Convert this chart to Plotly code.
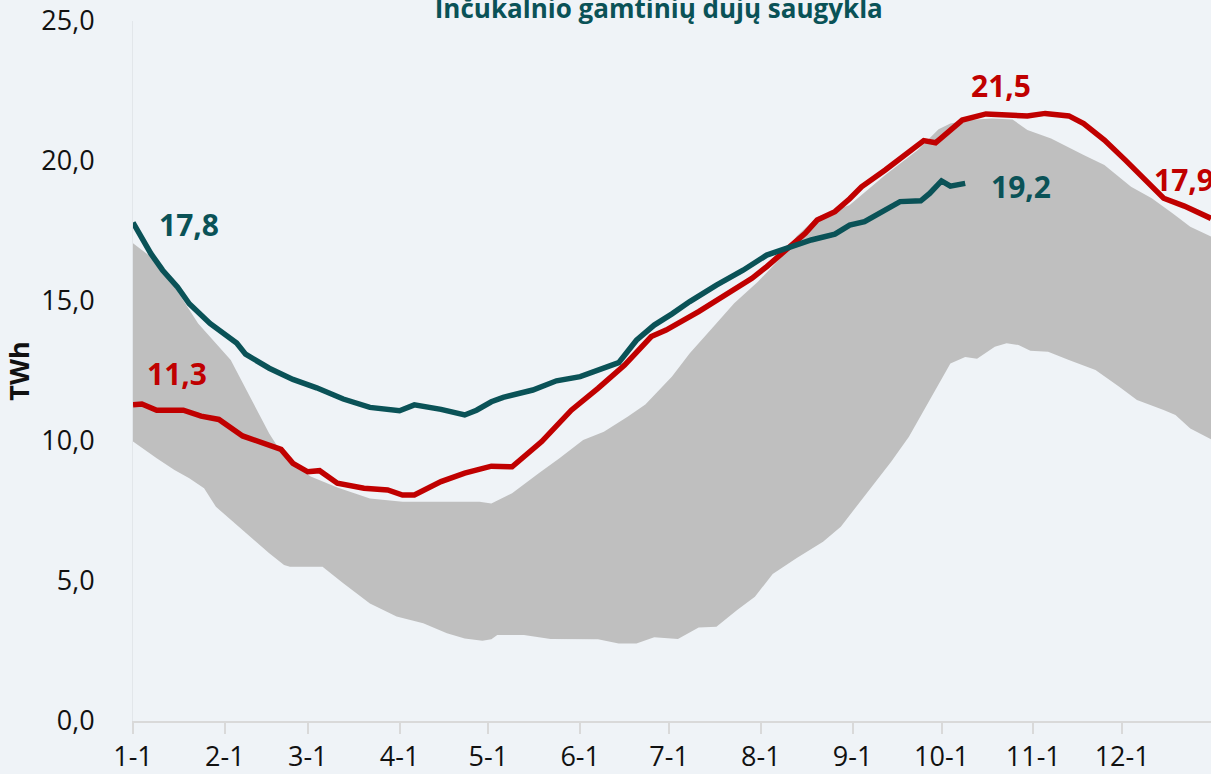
import pandas as pd
import plotly.graph_objects as go

YEAR = "2021-"  # non-leap reference year, only month-day is shown

# gray band: upper edge
band_hi_dates = ["01-01", "01-07", "01-15", "01-23", "02-03", "02-12", "02-16", "02-21", "03-02", "03-11",
                 "03-22", "04-02", "04-28", "05-02", "05-09", "05-18", "05-25", "06-02", "06-09", "06-17",
                 "06-23", "07-02", "07-08", "07-15", "07-23", "07-31", "08-07", "08-13", "08-20", "08-31",
                 "09-12", "09-23", "09-30", "10-04", "10-10", "10-18", "10-25", "10-30", "11-07", "11-18",
                 "11-25", "12-04", "12-11", "12-18", "12-24", "12-31"]
band_hi = [17.06, 16.58, 15.51, 14.2, 12.89, 11.11, 10.27, 9.44, 8.73, 8.34,
           7.95, 7.83, 7.83, 7.77, 8.13, 8.85, 9.38, 10.04, 10.33, 10.87,
           11.3, 12.3, 13.13, 13.96, 14.92, 15.69, 16.46, 17.3, 18.0, 18.43,
           19.5, 20.39, 21.13, 21.34, 21.46, 21.52, 21.48, 21.11, 20.8, 20.21,
           19.86, 19.08, 18.67, 18.13, 17.65, 17.3]

# gray band: lower edge
band_lo_dates = ["01-01", "01-09", "01-15", "01-20", "01-25", "01-29", "02-03", "02-11", "02-16", "02-21",
                 "02-23", "03-06", "03-13", "03-22", "03-31", "04-09", "04-17", "04-23", "04-29", "05-02",
                 "05-04", "05-13", "05-18", "05-22", "06-07", "06-14", "06-20", "06-26", "07-04", "07-11",
                 "07-17", "07-24", "07-30", "08-05", "08-13", "08-22", "08-28", "08-31", "09-07", "09-14",
                 "09-20", "09-24", "09-27", "10-04", "10-09", "10-13", "10-19", "10-23", "10-27", "10-31",
                 "11-06", "11-13", "11-22", "11-30", "12-06", "12-15", "12-19", "12-24", "12-31"]
band_lo = [9.98, 9.38, 8.96, 8.67, 8.31, 7.65, 7.18, 6.46, 5.99, 5.57,
           5.51, 5.51, 4.92, 4.2, 3.73, 3.49, 3.13, 2.95, 2.87, 2.92,
           3.07, 3.07, 2.99, 2.93, 2.92, 2.77, 2.77, 2.99, 2.93, 3.34,
           3.37, 3.96, 4.44, 5.25, 5.81, 6.4, 6.94, 7.36, 8.31, 9.26,
           10.15, 10.87, 11.46, 12.77, 13.0, 12.94, 13.37, 13.49, 13.43, 13.22,
           13.19, 12.89, 12.54, 11.94, 11.46, 11.11, 10.93, 10.45, 10.06]

# red line (previous year)
red_dates = ["01-01", "01-04", "01-09", "01-18", "01-24", "01-30", "02-07", "02-14", "02-20", "02-24",
             "03-01", "03-05", "03-11", "03-20", "03-28", "04-02", "04-06", "04-15", "04-23", "05-02",
             "05-09", "05-19", "05-29", "06-07", "06-16", "06-25", "06-30", "07-11", "07-20", "07-29",
             "08-03", "08-11", "08-16", "08-20", "08-26", "08-31", "09-04", "09-12", "09-18", "09-25",
             "09-29", "10-08", "10-16", "10-23", "10-30", "11-05", "11-13", "11-18", "11-25", "12-02",
             "12-09", "12-15", "12-22", "12-31"]
red_vals = [11.29, 11.32, 11.1, 11.1, 10.89, 10.77, 10.18, 9.92, 9.7, 9.2,
            8.9, 8.94, 8.49, 8.31, 8.25, 8.07, 8.07, 8.55, 8.85, 9.1,
            9.08, 9.98, 11.1, 11.88, 12.71, 13.73, 13.96, 14.62, 15.21, 15.81,
            16.23, 17.0, 17.42, 17.89, 18.19, 18.65, 19.08, 19.68, 20.15, 20.73,
            20.65, 21.46, 21.68, 21.65, 21.61, 21.7, 21.61, 21.34, 20.75, 20.04,
            19.32, 18.67, 18.39, 17.95]

# teal line (current year, up to early October)
teal_dates = ["01-01", "01-07", "01-11", "01-16", "01-20", "01-27", "02-05", "02-08", "02-16", "02-24",
              "03-04", "03-13", "03-22", "04-01", "04-06", "04-15", "04-23", "04-27", "05-02", "05-06",
              "05-16", "05-24", "06-01", "06-11", "06-14", "06-20", "06-26", "07-02", "07-08", "07-17",
              "07-26", "08-03", "08-11", "08-18", "08-26", "08-31", "09-05", "09-12", "09-17", "09-24",
              "09-27", "10-01", "10-04", "10-09"]
teal_vals = [17.8, 16.7, 16.1, 15.5, 14.9, 14.2, 13.5, 13.1, 12.6, 12.2,
             11.9, 11.5, 11.2, 11.08, 11.29, 11.13, 10.93, 11.1, 11.4, 11.56,
             11.82, 12.15, 12.3, 12.71, 12.8, 13.6, 14.14, 14.54, 14.98, 15.57,
             16.1, 16.64, 16.94, 17.18, 17.39, 17.71, 17.83, 18.25, 18.55, 18.58,
             18.84, 19.29, 19.1, 19.2]

month_ticks = ["01-01", "02-01", "03-01", "04-01", "05-01", "06-01",
               "07-01", "08-01", "09-01", "10-01", "11-01", "12-01"]
month_labels = ["1-1", "2-1", "3-1", "4-1", "5-1", "6-1", "7-1", "8-1", "9-1", "10-1", "11-1", "12-1"]
y_ticks = [0, 5, 10, 15, 20, 25]


def d(lst):
    return pd.to_datetime([YEAR + s for s in lst])


RED = "#C00000"
TEAL = "#0A5257"
FONT = "Open Sans"

fig = go.Figure()

# band polygon: upper edge then lower edge reversed
fig.add_scatter(x=list(d(band_hi_dates)) + list(d(band_lo_dates))[::-1],
                y=band_hi + band_lo[::-1],
                fill="toself", fillcolor="#BFBFBF", mode="lines",
                line=dict(width=0, color="#BFBFBF"), hoverinfo="skip")
fig.add_scatter(x=d(red_dates), y=red_vals, mode="lines", line=dict(color=RED, width=5.5))
fig.add_scatter(x=d(teal_dates), y=teal_vals, mode="lines", line=dict(color=TEAL, width=5.5))

labels = [  # text, date, y, colour, anchor
    ("17,8", "01-20", 17.75, TEAL, "center"),
    ("11,3", "01-16", 12.4, RED, "center"),
    ("21,5", "10-21", 22.7, RED, "center"),
    ("19,2", "10-28", 19.1, TEAL, "center"),
    ("17,9", "12-11", 19.35, RED, "left"),
]
for txt, dt, yv, col, anc in labels:
    fig.add_annotation(x=pd.Timestamp(YEAR + dt), y=yv, text=txt, showarrow=False,
                       xanchor=anc, yanchor="middle",
                       font=dict(family=FONT, size=30, color=col, weight="bold"))

fig.update_layout(
    width=1211, height=774,
    margin=dict(l=133, r=0, t=21, b=53, autoexpand=False),
    paper_bgcolor="#EFF3F7", plot_bgcolor="#EFF3F7",
    showlegend=False,
    separators=",.",
    font=dict(family=FONT, size=27, color="#111111"),
    title=dict(text="<b>Inčukalnio gamtinių dujų saugykla</b>", x=0.544, xanchor="center",
               y=0.988, yanchor="middle", font=dict(family=FONT, size=26, color=TEAL)),
)
fig.update_xaxes(type="date", range=[YEAR + "01-01", YEAR + "12-31"], automargin=False,
                 tickvals=d(month_ticks), ticktext=month_labels,
                 showgrid=False, zeroline=False,
                 showline=True, linecolor="#D9D9D9", linewidth=2,
                 ticks="outside", ticklen=11, tickwidth=2, tickcolor="#D9D9D9",
                 tickfont=dict(size=27))
fig.update_yaxes(range=[0, 25], tickvals=y_ticks, tickformat=".1f", automargin=False,
                 showgrid=False, zeroline=False,
                 showline=True, linecolor="#E2E6EA", linewidth=1,
                 ticks="", ticklabelstandoff=32,
                 tickfont=dict(size=27),
                 title=dict(text="<b>TWh</b>", standoff=5, font=dict(size=27)))

# the page body has a default 8px margin; drop it so the figure sits at the corner
fig.write_html("out.html", config={"displayModeBar": False},
               post_script="document.body.style.margin='0px';document.body.style.background='#EFF3F7';")
